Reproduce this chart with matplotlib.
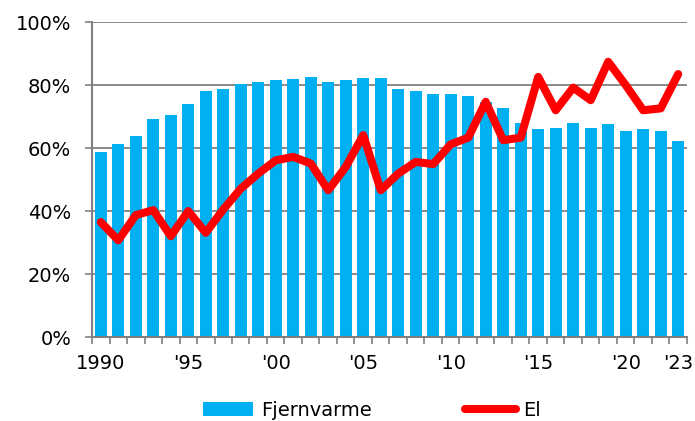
import numpy as np
import matplotlib
matplotlib.use("Agg")
import matplotlib.pyplot as plt
from matplotlib.ticker import FixedLocator, PercentFormatter

years = list(range(1990, 2024))
fjernvarme = [58.7, 61.2, 63.8, 69.3, 70.4, 73.9, 78.2, 78.9, 80.3, 81.0,
              81.5, 81.9, 82.7, 81.0, 81.5, 82.2, 82.2, 78.9, 78.2, 77.2,
              77.2, 76.4, 74.5, 72.6, 68.0, 65.9, 66.3, 68.0, 66.3, 67.5,
              65.5, 65.9, 65.5, 62.1]
el = [36.5, 30.7, 38.7, 40.3, 32.0, 40.0, 33.1, 40.5, 47.1, 51.9,
      56.1, 57.2, 55.1, 46.6, 54.0, 64.1, 46.6, 51.9, 55.6, 54.9,
      61.2, 63.3, 74.7, 62.5, 63.3, 82.6, 72.0, 79.2, 75.2, 87.4,
      80.0, 72.0, 72.6, 83.5]
tick_years = [1990, 1995, 2000, 2005, 2010, 2015, 2020, 2023]
tick_labels = ["1990", "'95", "'00", "'05", "'10", "'15", "'20", "'23"]

grey = "#808080"
plt.rcParams["font.family"] = ["DejaVu Sans"]

fig = plt.figure(figsize=(6.95, 4.21), dpi=100)
ax = fig.add_axes([0.1324, 0.1995, 0.856, 0.748])

x = np.arange(len(years))
bars = ax.bar(x, fjernvarme, width=0.68, color="#00B0F0", zorder=2, label="Fjernvarme")
line, = ax.plot(x, el, color="#FF0000", lw=5.8, solid_joinstyle="round",
                solid_capstyle="round", zorder=3, label="El")

ax.set_xlim(-0.5, len(years) - 0.5)
ax.set_ylim(0, 100)
ax.set_yticks(np.arange(0, 101, 20))
ax.yaxis.set_major_formatter(PercentFormatter(decimals=0))
ax.grid(axis="y", color=grey, lw=1.3, zorder=1)

pos = [years.index(y) for y in tick_years]
ax.set_xticks(pos)
ax.set_xticklabels(tick_labels)
ax.xaxis.set_minor_locator(FixedLocator(np.arange(-0.5, len(years), 1)))
ax.tick_params(axis="x", which="major", length=0, pad=12, labelsize=14)
ax.tick_params(axis="x", which="minor", length=5, width=1.2, color=grey)
ax.tick_params(axis="y", length=5, width=1.2, color=grey, pad=10, labelsize=14)

for s in ["top", "right"]:
    ax.spines[s].set_visible(False)
for s in ["left", "bottom"]:
    ax.spines[s].set_color(grey)
    ax.spines[s].set_linewidth(1.5)

fig.legend(handles=[bars, line], loc="center", bbox_to_anchor=(0.535, 0.025),
           ncol=2, frameon=False, fontsize=14, handlelength=2.6,
           handletextpad=0.4, columnspacing=4.8)

fig.savefig("out.png", dpi=100)
